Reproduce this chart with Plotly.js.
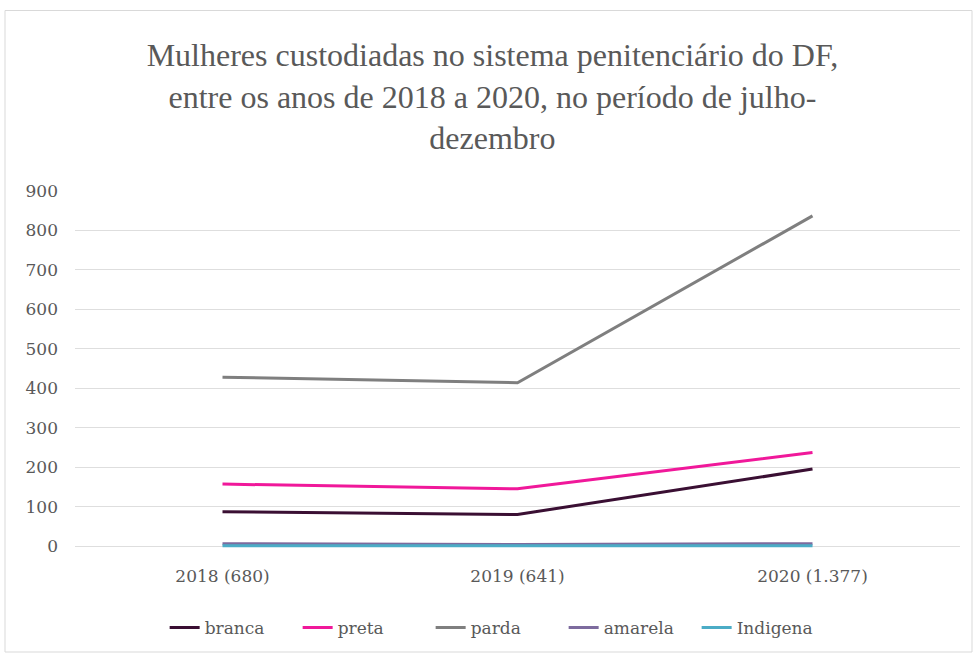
<!DOCTYPE html>
<html>
<head>
<meta charset="utf-8">
<script src="https://cdn.plot.ly/plotly-3.0.1.min.js"></script>
<style>
  html, body { margin: 0; padding: 0; background: #ffffff; }
  #chart { width: 977px; height: 658px; }
</style>
</head>
<body>
<div id="chart"></div>
<script>
// Categories: year (total of women in custody)
const anos = ['2018 (680)', '2019 (641)', '2020 (1.377)'];

// Women in custody by race/colour
const branca   = [87, 80, 195];
const preta    = [157, 145, 237];
const parda    = [428, 414, 837];
const amarela  = [6, 4, 6];
const indigena = [1, 1, 1];

const yTicks = [0, 100, 200, 300, 400, 500, 600, 700, 800, 900];

const series = [
  { name: 'branca',   y: branca,   color: '#3a0f33' },
  { name: 'preta',    y: preta,    color: '#f0189a' },
  { name: 'parda',    y: parda,    color: '#7f7f7f' },
  { name: 'amarela',  y: amarela,  color: '#7d6b9e' },
  { name: 'Indigena', y: indigena, color: '#4bacc6' }
];

const traces = series.map(s => ({
  type: 'scatter',
  mode: 'lines',
  name: s.name,
  x: anos,
  y: s.y,
  line: { color: s.color, width: 3 },
  hoverinfo: 'x+y+name'
}));

const tickFont = { family: 'DejaVu Serif, serif', size: 17, color: '#595959' };

const layout = {
  width: 977,
  height: 658,
  paper_bgcolor: '#ffffff',
  plot_bgcolor: '#ffffff',
  margin: { l: 75, r: 17, t: 191, b: 110 },
  title: {
    text: 'Mulheres custodiadas no sistema penitenciário do DF,<br>entre os anos de 2018 a 2020, no período de julho-<br>dezembro',
    font: { family: 'Liberation Serif, serif', size: 32, color: '#595959' },
    x: 0.504,
    xanchor: 'center',
    xref: 'container',
    y: 1 - 66 / 658,
    yanchor: 'top',
    yref: 'container'
  },
  xaxis: {
    type: 'category',
    range: [-0.5, 2.5],
    showgrid: false,
    zeroline: false,
    showline: false,
    ticks: '',
    tickfont: tickFont,
    ticklabelstandoff: 16,
    fixedrange: true
  },
  yaxis: {
    range: [-5, 900],
    tickvals: yTicks,
    ticktext: yTicks.map(String),
    showgrid: true,
    gridcolor: '#dedede',
    gridwidth: 1,
    zeroline: false,
    showline: false,
    ticks: '',
    tickfont: tickFont,
    ticklabelstandoff: 16,
    fixedrange: true
  },
  showlegend: true,
  legend: {
    orientation: 'h',
    x: 0.477,
    xanchor: 'center',
    y: -0.224,
    yanchor: 'middle',
    entrywidth: 88,
    entrywidthmode: 'pixels',
    font: { family: 'DejaVu Serif, serif', size: 17, color: '#595959' },
    bgcolor: 'rgba(0,0,0,0)'
  },
  shapes: [{
    type: 'rect',
    xref: 'paper', yref: 'paper',
    x0: (5 - 75) / 885, x1: (972 - 75) / 885,
    y0: (548 - 652) / 357, y1: (548 - 10.5) / 357,
    line: { color: '#d9d9d9', width: 1 },
    fillcolor: 'rgba(0,0,0,0)',
    layer: 'below'
  }]
};

Plotly.newPlot('chart', traces, layout, { displayModeBar: false, staticPlot: true });
</script>
</body>
</html>
